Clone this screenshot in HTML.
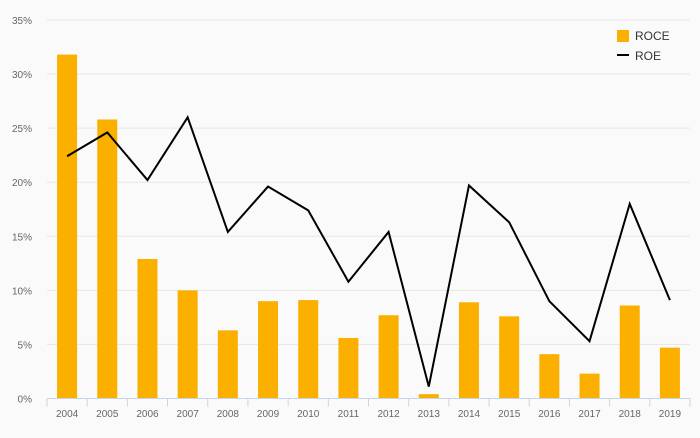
<!DOCTYPE html>
<html><head><meta charset="utf-8"><style>
body{margin:0;background:#fafafa;font-family:"Liberation Sans",sans-serif}
svg text{font-family:"Liberation Sans",sans-serif}
</style></head><body>
<svg id="chart" width="700" height="433" xmlns="http://www.w3.org/2000/svg">
<rect width="700" height="433" fill="#fafafa"/>
<g id="grid"></g><g id="bars"></g><g id="line"></g><g id="axes"></g>
<g>
<rect x="617" y="30" width="12" height="12" fill="#fbb000"/>
<text x="635" y="40" font-size="12" fill="#333">ROCE</text>
<line x1="617" y1="55" x2="629" y2="55" stroke="#000" stroke-width="2"/>
<text x="635" y="60" font-size="12" fill="#333">ROE</text>
</g>
</svg>
<script>
const categories=["2004","2005","2006","2007","2008","2009","2010","2011","2012","2013","2014","2015","2016","2017","2018","2019"];
const roce=[31.8,25.8,12.9,10.0,6.3,9.0,9.1,5.6,7.7,0.4,8.9,7.6,4.1,2.3,8.6,4.7];
const roe=[22.4,24.6,20.2,26.0,15.4,19.6,17.4,10.8,15.4,1.1,19.7,16.3,9.0,5.3,18.0,9.1];
const yTicks=[0,5,10,15,20,25,30,35];
const NS="http://www.w3.org/2000/svg";
const x0=47,x1=690,y0=398.5,yTop=20,yMax=35;
const bw=(x1-x0)/categories.length;
function xC(i){return x0+bw*(i+0.5);}
function yS(v){return y0-(v/yMax)*(y0-yTop);}
function mk(t,a,p){const e=document.createElementNS(NS,t);for(const k in a)e.setAttribute(k,a[k]);p.appendChild(e);return e;}
const grid=document.getElementById('grid'),bars=document.getElementById('bars'),line=document.getElementById('line'),axes=document.getElementById('axes');
yTicks.forEach(v=>{
 if(v>0){const g=mk('line',{x1:x0,x2:x1,y1:yS(v),y2:yS(v),stroke:'#e6e6e6','stroke-width':1},grid);
 
 }
 const t=mk('text',{x:32,y:yS(v)+4,'font-size':10,fill:'#666','text-anchor':'end'},axes);t.textContent=v+'%';
 
 
});
const ax=mk('line',{x1:x0,x2:x1,y1:y0,y2:y0,stroke:'#c8d4ea','stroke-width':1},axes);


categories.forEach((c,i)=>{
 const tk=mk('line',{x1:x0+bw*i,x2:x0+bw*i,y1:y0,y2:y0+8,stroke:'#c8d4ea'},axes);
 
 
 const t=mk('text',{x:xC(i),y:417,'font-size':10,fill:'#666','text-anchor':'middle'},axes);t.textContent=c;
 
 
 const b=mk('rect',{x:xC(i)-10,y:yS(roce[i]),width:20,height:y0-yS(roce[i]),fill:'#fbb000'},bars);
 
 
});
const ln=mk('polyline',{points:roe.map((v,i)=>xC(i)+','+yS(v)).join(' '),fill:'none',stroke:'#000','stroke-width':2},line);


mk('line',{x1:x1,x2:x1,y1:y0,y2:y0+8,stroke:'#c8d4ea'},axes);
</script>
</body></html>
